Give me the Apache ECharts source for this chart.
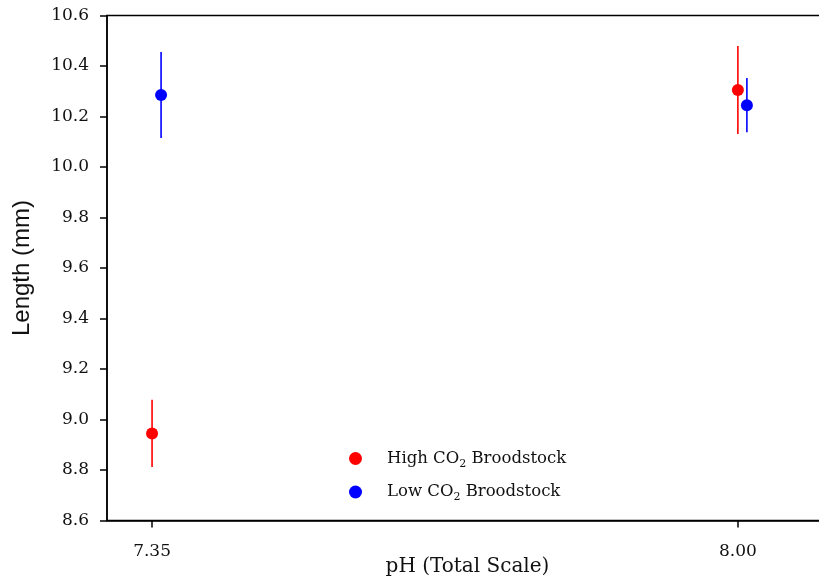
<!DOCTYPE html>
<html>
<head>
<meta charset="utf-8">
<script src="https://cdn.jsdelivr.net/npm/echarts@6/dist/echarts.min.js"></script>
<style>
  html, body { margin: 0; padding: 0; background: #fff; }
  #chart { width: 819px; height: 583px; }
</style>
</head>
<body>
<div id="chart"></div>
<script>
// pH values (Low CO2 points are slightly offset to the right, as in the figure)
const phHigh = [7.35, 8.00];
const meanHigh = [8.945, 10.305];
const errHigh = [0.133, 0.174];

const phLow = [7.36, 8.01];
const meanLow = [10.285, 10.245];
const errLow = [0.17, 0.107];

const xTicks = [7.35, 8.00];

const serif = 'DejaVu Serif';

function pts(xs, ys) {
  return xs.map((x, i) => [x, ys[i]]);
}
function bars(xs, ys, es) {
  return xs.map((x, i) => [x, ys[i] - es[i], ys[i] + es[i]]);
}

// vertical error bar
function errorBar(color) {
  return function (params, api) {
    const lo = api.coord([api.value(0), api.value(1)]);
    const hi = api.coord([api.value(0), api.value(2)]);
    return {
      type: 'line',
      shape: { x1: lo[0], y1: lo[1], x2: hi[0], y2: hi[1] },
      style: { stroke: color, lineWidth: 1.6 },
    };
  };
}

const chart = echarts.init(document.getElementById('chart'));
chart.setOption({
  animation: false,
  grid: {
    left: 107, top: 15.5, width: 721, height: 505,
    outerBoundsMode: 'none', containLabel: false,
    show: true, borderColor: '#000', borderWidth: 1.5,
  },
  legend: {
    left: 344, top: 445, orient: 'vertical', itemGap: 14,
    icon: 'circle', itemWidth: 13, itemHeight: 13,
    data: ['High CO2 Broodstock', 'Low CO2 Broodstock'],
    formatter: (name) => name.replace('CO2', 'CO{s|2}'),
    textStyle: {
      fontFamily: serif, fontSize: 16.5, color: '#111', padding: [0, 0, 0, 20],
      rich: {
        s: { fontFamily: serif, fontSize: 11, padding: [11, 0, 0, 0], color: '#111' },
      },
    },
  },
  xAxis: {
    type: 'value', min: 7.3, max: 8.1,
    name: 'pH (Total Scale)', nameLocation: 'middle', nameGap: 36, nameMoveOverlap: false,
    nameTextStyle: { fontFamily: serif, fontSize: 20, color: '#111' },
    axisLine: { show: true, lineStyle: { color: '#000', width: 1.5 } },
    axisTick: { show: true, length: 7, customValues: xTicks, lineStyle: { color: '#000', width: 1.5 } },
    axisLabel: {
      customValues: xTicks, margin: 23,
      formatter: (v) => v.toFixed(2),
      fontFamily: serif, fontSize: 17, color: '#111',
    },
    splitLine: { show: false },
  },
  yAxis: {
    type: 'value', min: 8.6, max: 10.6, interval: 0.2,
    name: 'Length (mm)', nameLocation: 'middle', nameGap: 73,
    nameTextStyle: { fontFamily: 'Liberation Sans', fontSize: 24, color: '#111' },
    axisLine: { show: true, lineStyle: { color: '#000', width: 1.5 } },
    axisTick: { show: true, length: 7, inside: false, lineStyle: { color: '#000', width: 1.5 } },
    axisLabel: {
      margin: 18,
      formatter: (v) => v.toFixed(1),
      fontFamily: serif, fontSize: 17, color: '#111',
    },
    splitLine: { show: false },
  },
  series: [
    {
      name: 'High CO2 Broodstock', type: 'custom',
      renderItem: errorBar('#ff0000'), data: bars(phHigh, meanHigh, errHigh),
      itemStyle: { color: '#ff0000' }, z: 2,
    },
    {
      name: 'Low CO2 Broodstock', type: 'custom',
      renderItem: errorBar('#0000ff'), data: bars(phLow, meanLow, errLow),
      itemStyle: { color: '#0000ff' }, z: 2,
    },
    {
      name: 'High CO2 Broodstock', type: 'scatter', symbolSize: 12,
      data: pts(phHigh, meanHigh), itemStyle: { color: '#ff0000', opacity: 1 }, z: 3,
    },
    {
      name: 'Low CO2 Broodstock', type: 'scatter', symbolSize: 12,
      data: pts(phLow, meanLow), itemStyle: { color: '#0000ff', opacity: 1 }, z: 3,
    },
  ],
});
</script>
</body>
</html>
